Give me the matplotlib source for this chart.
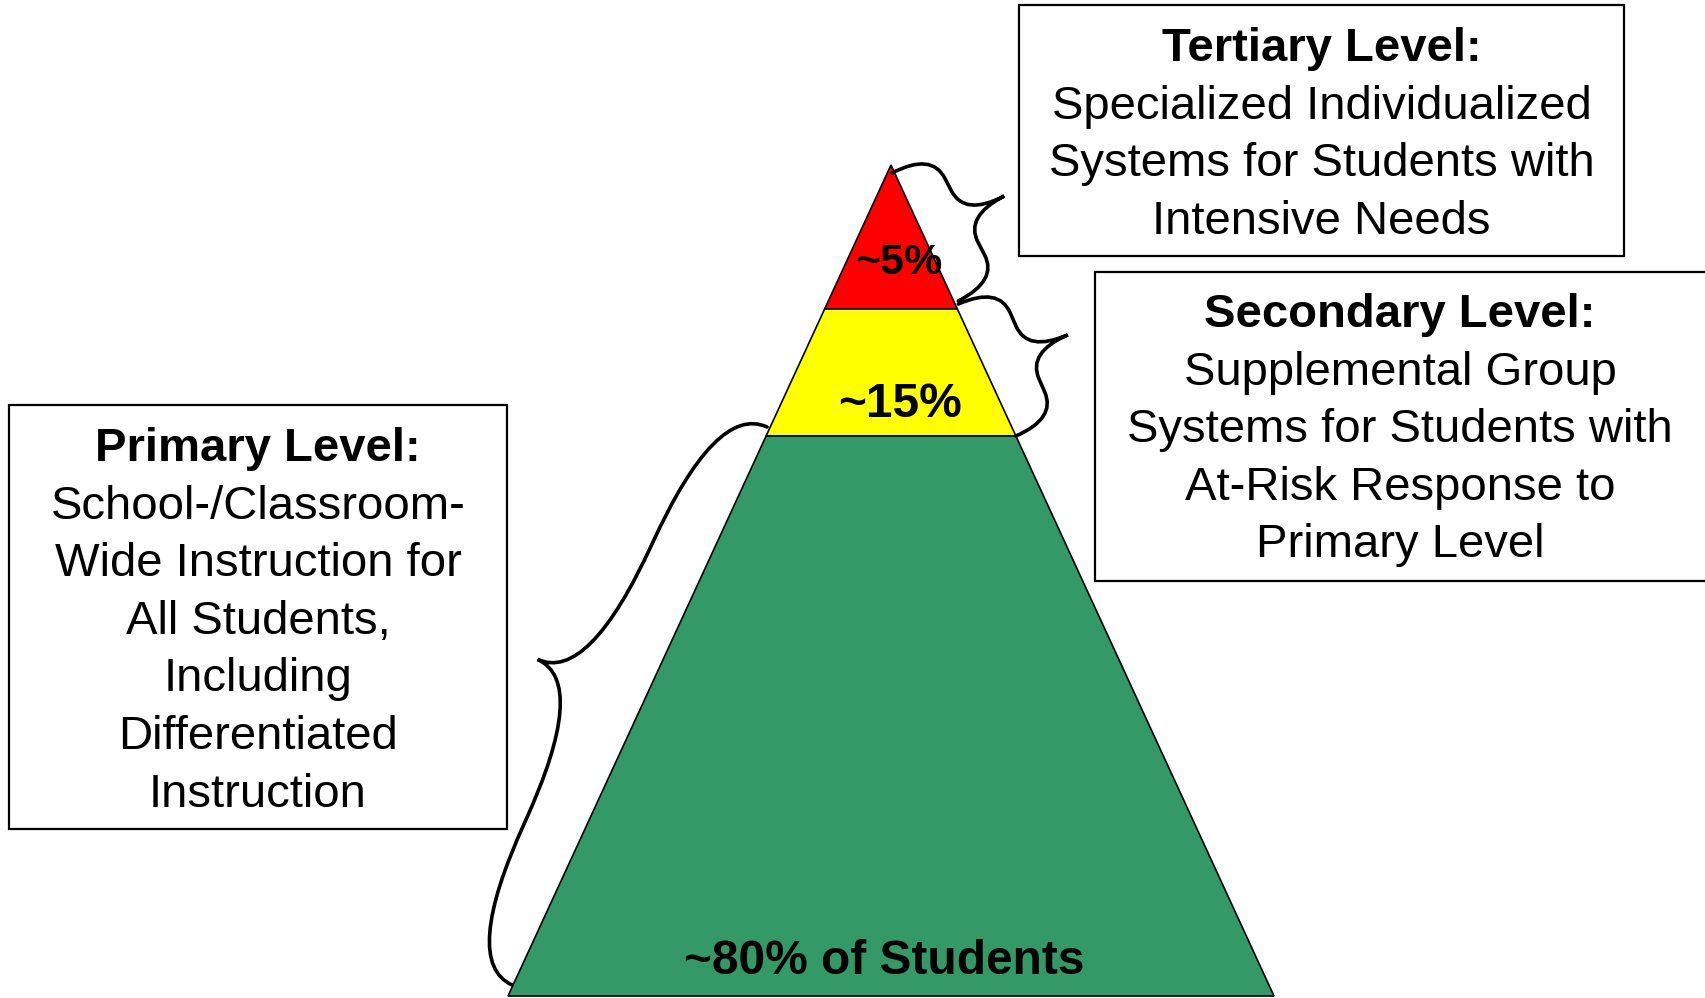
import numpy as np
import matplotlib.pyplot as plt
from matplotlib.patches import Polygon, Rectangle, PathPatch
from matplotlib.path import Path

# tiers, top to bottom
tiers = ['Tertiary', 'Secondary', 'Primary']
shares = [5, 15, 80]
tier_colors = ['#FF0000', '#FFFF00', '#339966']
tier_labels = ['~%d%%' % shares[0], '~%d%%' % shares[1], '~%d%% of Students' % shares[2]]

box_titles = ['Tertiary Level:', 'Secondary Level:', 'Primary Level:']
box_bodies = [
    ['Specialized Individualized', 'Systems for Students with', 'Intensive Needs'],
    ['Supplemental Group', 'Systems for Students with', 'At-Risk Response to', 'Primary Level'],
    ['School-/Classroom-', 'Wide Instruction for', 'All Students,', 'Including',
     'Differentiated', 'Instruction'],
]

# layout (pixels, y down)
W, H = 1705, 998
apex = (891, 165)
base_y, base_l, base_r = 996, 508, 1274
tier_bottoms = [309, 436, base_y]
label_pos = [(899, 274), (900, 417), (884, 974)]
label_size = [31, 34.5, 34.5]
boxes = [(1019, 5, 1624, 256), (1095, 272, 1712, 581), (9, 405, 507, 829)]
box_first_line = [46, 312, 446]
line_step = 57.6
font = 'Liberation Sans'


def edge_x(y):
    t = (y - apex[1]) / (base_y - apex[1])
    return apex[0] + (base_l - apex[0]) * t, apex[0] + (base_r - apex[0]) * t


def brace(p1, p2, depth, frac):
    """curly brace from p1 to p2, tip pointing to the right of p1->p2"""
    p1, p2 = np.array(p1, float), np.array(p2, float)
    d = p2 - p1
    L = np.hypot(*d)
    d = d / L
    n = np.array([d[1], -d[0]])
    h = depth / 2.0
    a = frac * L
    m = L / 2.0
    pts = [(0, 0), (0, h), (a, h), (m - a, h), (m, h), (m, 2 * h),
           (m, h), (m + a, h), (L - a, h), (L, h), (L, 0)]
    codes = [Path.MOVETO, Path.CURVE3, Path.CURVE3, Path.LINETO, Path.CURVE3, Path.CURVE3,
             Path.CURVE3, Path.CURVE3, Path.LINETO, Path.CURVE3, Path.CURVE3]
    verts = [p1 + u * d + v * n for u, v in pts]
    return Path(verts, codes)


fig = plt.figure(figsize=(W / 100, H / 100), dpi=100)
ax = fig.add_axes([0, 0, 1, 1])
ax.set_xlim(0, W)
ax.set_ylim(H, 0)
ax.axis('off')

# pyramid
top = apex[1]
for i, yb in enumerate(tier_bottoms):
    lt, rt = edge_x(top)
    lb, rb = edge_x(yb)
    if i == 0:
        poly = [apex, (lb, yb), (rb, yb)]
    else:
        poly = [(lt, top), (rt, top), (rb, yb), (lb, yb)]
    ax.add_patch(Polygon(poly, closed=True, facecolor=tier_colors[i],
                         edgecolor='black', lw=1.2, zorder=2))
    ax.text(label_pos[i][0], label_pos[i][1], tier_labels[i], ha='center', va='baseline',
            fontsize=label_size[i], fontweight='bold', family=font, zorder=5)
    top = yb

# braces
r0 = edge_x(tier_bottoms[0])[1]
r1 = edge_x(tier_bottoms[1])[1]
l1 = edge_x(tier_bottoms[1])[0]
brace_paths = [
    brace((apex[0] + 1, apex[1] + 8), (r0 + 1, tier_bottoms[0] - 8), 89, 0.2),
    brace((r0 + 1, tier_bottoms[0] - 5), (r1, tier_bottoms[1]), 88, 0.2),
    brace((512, 985), (l1 + 1, tier_bottoms[1] - 9), 112, 0.25),
]
for p in brace_paths:
    ax.add_patch(PathPatch(p, facecolor='none', edgecolor='black', lw=2.6,
                           capstyle='round', zorder=4))

# text boxes
for i in range(3):
    x0, y0, x1, y1 = boxes[i]
    ax.add_patch(Rectangle((x0, y0), x1 - x0, y1 - y0, facecolor='white',
                           edgecolor='black', lw=1.6, zorder=3))
    cx = (x0 + min(x1, W)) / 2.0
    lines = [box_titles[i]] + box_bodies[i]
    for k, line in enumerate(lines):
        yb = box_first_line[i] + k * line_step + 15
        ax.text(cx, yb, line, ha='center', va='baseline', fontsize=34, family=font,
                fontweight='bold' if k == 0 else 'normal', zorder=5)

plt.savefig('out.png', dpi=100)
plt.close()
